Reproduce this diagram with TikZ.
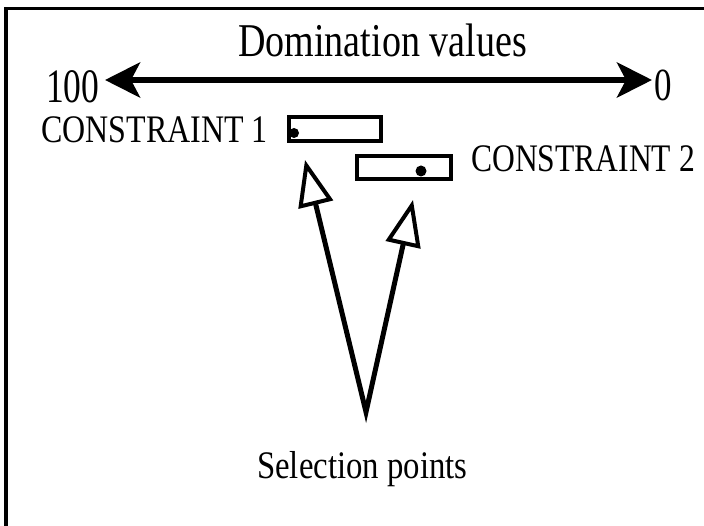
\documentclass[tikz,border=0pt]{standalone}
\usepackage{fontspec}
\setmainfont{Liberation Serif}
\usetikzlibrary{arrows.meta}
\newcommand{\hsq}[2]{\scalebox{#1}[1]{#2}}
\begin{document}
\begin{tikzpicture}[x=1pt,y=-1pt,
  lbl/.style={inner sep=0pt, anchor=base west},
  frameline/.style={line width=3.5pt},
  cbox/.style={draw, line width=4pt, inner sep=0pt, fill=white},
  dot/.style={circle, fill=black, inner sep=0pt, minimum size=10pt},
  dbl/.style={line width=6pt,
    {Stealth[length=35pt,width=35pt,inset=9pt]}-{Stealth[length=35pt,width=35pt,inset=9pt]}},
  sel/.style={line width=5pt, line join=miter,
    {Triangle[open,length=46pt,width=35pt,line width=4pt,fill=white]}-{Triangle[open,length=46pt,width=35pt,line width=4pt,fill=white]}}
]
\useasboundingbox (0,0) rectangle (704,526);
\draw[frameline] (6,526) -- (6,8.5) -- (704,8.5);

\node[lbl] (title) at (238,57) {\fontsize{47pt}{47pt}\selectfont\hsq{0.81}{Domination values}};
\node[lbl] (n100) at (46,103) {\fontsize{48pt}{48pt}\selectfont\hsq{0.74}{100}};
\node[lbl] (n0) at (654,101) {\fontsize{46pt}{46pt}\selectfont\hsq{0.76}{0}};
\coordinate (aL) at (105,80);
\coordinate (aR) at (652,80);
\draw[dbl] (aL) -- (aR);

\node[lbl] (lc1) at (41,143) {\fontsize{39pt}{39pt}\selectfont\hsq{0.82}{CONSTRAINT 1}};
\node[lbl] (lc2) at (471,172) {\fontsize{39pt}{39pt}\selectfont\hsq{0.81}{CONSTRAINT 2}};
\node[cbox, minimum width=92pt, minimum height=24pt] (c1) at (335,129) {};
\node[cbox, minimum width=94pt, minimum height=23pt] (c2) at (404,167.5) {};
\node[dot] (d1) at (294,133) {};
\node[dot, minimum size=11pt] (d2) at (421,171) {};

\coordinate (v) at (366,412);
\coordinate (t1) at (305,160);
\coordinate (t2) at (413,200);
\draw[sel] (t1) -- (v) -- (t2);

\node[lbl] (sp) at (257,478) {\fontsize{39pt}{39pt}\selectfont\hsq{0.84}{Selection points}};
\end{tikzpicture}
\end{document}
